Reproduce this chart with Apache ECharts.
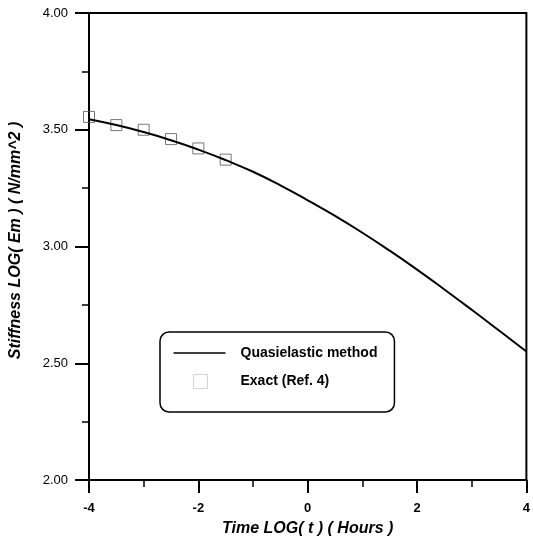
<!DOCTYPE html>
<html>
<head>
<meta charset="utf-8">
<script src="https://cdn.jsdelivr.net/npm/echarts@6/dist/echarts.min.js"></script>
<style>
html,body{margin:0;padding:0;background:#fff;}
#c{width:533px;height:542px;}
</style>
</head>
<body>
<div id="c"></div>
<script>
// Quasielastic method curve: x = LOG(t) hours, y = LOG(Em)
const curveX = [-4, -3.5, -3, -2.5, -2, -1.5, -1, -0.5, 0, 0.5, 1, 1.5, 2, 2.5, 3, 3.5, 4];
const curveY = [3.545, 3.52, 3.49, 3.455, 3.415, 3.37, 3.32, 3.262, 3.198, 3.131, 3.059, 2.982, 2.901, 2.816, 2.729, 2.64, 2.55];
// Exact (Ref. 4) points
const exactX = [-4, -3.5, -3, -2.5, -2, -1.5];
const exactY = [3.555, 3.52, 3.50, 3.46, 3.42, 3.372];
const seriesNames = ['Quasielastic method', 'Exact (Ref. 4)'];
const xTitle = 'Time LOG( t ) ( Hours )';
const yTitle = 'Stiffness LOG( Em ) ( N/mm^2 )';

const chart = echarts.init(document.getElementById('c'), null, {renderer: 'canvas'});
const font = 'Liberation Sans, Arial, sans-serif';
chart.setOption({
  animation: false,
  backgroundColor: '#fff',
  grid: {left: 89, right: 3, top: 13, bottom: 61, show: true, borderColor: '#000', borderWidth: 2, backgroundColor: 'transparent'},
  legend: {
    orient: 'vertical', left: 160, top: 332,
    padding: [14, 17, 23, 13],
    borderColor: '#000', borderWidth: 1.5, borderRadius: 9,
    itemWidth: 52, itemHeight: 14, itemGap: 14,
    textStyle: {fontFamily: font, fontWeight: 'bold', fontSize: 14, color: '#000', padding: [0, 0, 0, 10]},
    data: [
      {name: seriesNames[0], icon: 'path://M0,6.2 L52,6.2 L52,7.8 L0,7.8 Z M0,0 L0.01,0 M0,14 L0.01,14',
       itemStyle: {color: '#000', borderWidth: 0}},
      {name: seriesNames[1], icon: 'path://M20,0 L34,0 L34,14 L20,14 Z M0,7 L0.01,7 M52,7 L52.01,7',
       itemStyle: {color: 'rgba(0,0,0,0)', borderColor: '#999', borderWidth: 1, borderType: 'dotted'}}
    ]
  },
  xAxis: {
    type: 'value', min: -4, max: 4, interval: 2,
    name: xTitle, nameLocation: 'middle', nameGap: 41,
    nameTextStyle: {fontFamily: font, fontWeight: 'bold', fontStyle: 'italic', fontSize: 16, color: '#000'},
    axisLine: {show: true, onZero: false, lineStyle: {color: '#000', width: 2}},
    axisTick: {show: true, inside: false, length: 13, lineStyle: {color: '#000', width: 2}},
    minorTick: {show: true, splitNumber: 2, length: 7, lineStyle: {color: '#000', width: 1.5}},
    axisLabel: {margin: 22, fontFamily: font, fontSize: 13, color: '#000', fontWeight: 'bold'},
    splitLine: {show: false}
  },
  yAxis: {
    type: 'value', min: 2, max: 4, interval: 0.5,
    name: yTitle, nameLocation: 'middle', nameGap: 65, nameRotate: 90,
    nameTextStyle: {fontFamily: font, fontWeight: 'bold', fontStyle: 'italic', fontSize: 16, color: '#000', padding: [0, 0, 0, 12]},
    axisLine: {show: true, onZero: false, lineStyle: {color: '#000', width: 2}},
    axisTick: {show: true, inside: false, length: 14, lineStyle: {color: '#000', width: 2}},
    minorTick: {show: true, splitNumber: 2, length: 7, lineStyle: {color: '#000', width: 1.5}},
    axisLabel: {margin: 21, fontFamily: font, fontSize: 13, color: '#000', formatter: v => v.toFixed(2)},
    splitLine: {show: false}
  },
  series: [
    {
      name: seriesNames[0], type: 'line', smooth: true, symbol: 'none',
      lineStyle: {color: '#000', width: 2}, itemStyle: {color: '#000'},
      data: curveX.map((x, i) => [x, curveY[i]]), z: 3
    },
    {
      name: seriesNames[1], type: 'scatter', symbol: 'rect', symbolSize: 11,
      itemStyle: {color: 'rgba(0,0,0,0)', borderColor: '#555', borderWidth: 1},
      data: exactX.map((x, i) => [x, exactY[i]]), z: 2
    }
  ]
});
</script>
</body>
</html>
